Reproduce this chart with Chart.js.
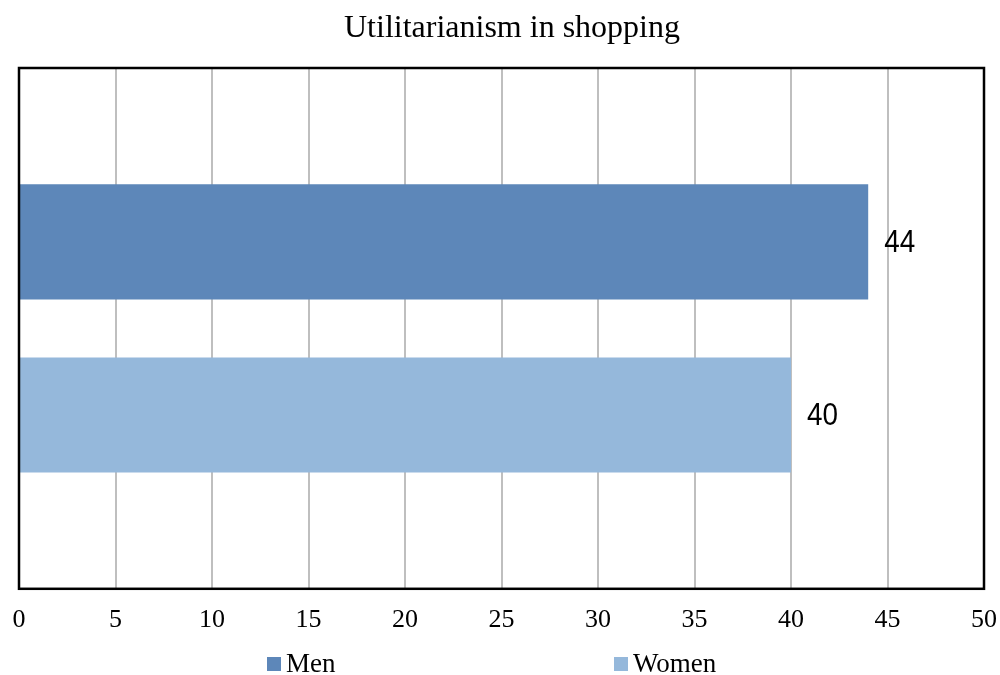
<!DOCTYPE html>
<html>
<head>
<meta charset="utf-8">
<script src="https://cdn.jsdelivr.net/npm/chart.js@4/dist/chart.umd.min.js"></script>
<style>
html,body{margin:0;padding:0;background:#fff;}
#wrap{width:1000px;height:675px;position:relative;}
</style>
</head>
<body>
<div id="wrap"><canvas id="chart"></canvas></div>
<script>
// chart data
const titleText = "Utilitarianism in shopping";
const categories = ["Utilitarianism in shopping"];
const seriesNames = ["Men", "Women"];
const menValues = [44];
const womenValues = [40];
const seriesColors = ["#5D87B9", "#95B8DB"];
const xMin = 0, xMax = 50, xStep = 5;

const serif = "'Liberation Serif', 'Times New Roman', serif";

// title, drawn by hand so it sits a little right of centre like the original
const topTitle = {
  id: "topTitle",
  afterDraw(chart){
    const ctx = chart.ctx;
    ctx.save();
    ctx.font = "32px " + serif;
    ctx.fillStyle = "#000";
    ctx.textAlign = "center";
    ctx.textBaseline = "alphabetic";
    ctx.fillText(titleText, 512, 37);
    ctx.restore();
  }
};

// value labels at the end of each bar (narrow sans look)
const barLabels = {
  id: "barLabels",
  afterDatasetsDraw(chart){
    const ctx = chart.ctx;
    chart.data.datasets.forEach((ds, i) => {
      chart.getDatasetMeta(i).data.forEach((bar, j) => {
        if (ds.data[j] == null) return;
        ctx.save();
        ctx.translate(bar.x + 16, bar.y + 1);
        ctx.scale(0.87, 1);
        ctx.font = "32px 'Liberation Sans', Arial, sans-serif";
        ctx.fillStyle = "#000";
        ctx.textAlign = "left";
        ctx.textBaseline = "middle";
        ctx.fillText(String(ds.data[j]), 0, 0);
        ctx.restore();
      });
    });
  }
};

// black frame round the plot area
const frame = {
  id: "frame",
  afterDatasetsDraw(chart){
    const a = chart.chartArea, ctx = chart.ctx;
    ctx.save();
    ctx.strokeStyle = "#000";
    ctx.lineWidth = 2.5;
    ctx.strokeRect(a.left, a.top, a.right - a.left, a.bottom - a.top);
    ctx.restore();
  }
};

// legend below the axis
const bottomLegend = {
  id: "bottomLegend",
  afterDraw(chart){
    const ctx = chart.ctx;
    const xs = [267, 614];
    const y = 664;
    ctx.save();
    ctx.font = "27px " + serif;
    ctx.textBaseline = "middle";
    ctx.textAlign = "left";
    chart.data.datasets.forEach((ds, i) => {
      ctx.fillStyle = ds.backgroundColor;
      ctx.fillRect(xs[i], y - 7, 14, 14);
      ctx.fillStyle = "#000";
      ctx.fillText(ds.label, xs[i] + 19, y + 1);
    });
    ctx.restore();
  }
};

new Chart(document.getElementById("chart"), {
  type: "bar",
  data: {
    labels: categories,
    datasets: [
      {label: seriesNames[0], data: menValues, backgroundColor: seriesColors[0]},
      {label: seriesNames[1], data: womenValues, backgroundColor: seriesColors[1]}
    ]
  },
  options: {
    indexAxis: "y",
    responsive: true,
    maintainAspectRatio: false,
    animation: false,
    categoryPercentage: 0.665,
    barPercentage: 0.665,
    layout: {padding: {left: 19, right: 16, top: 68, bottom: 23}},
    plugins: {
      legend: {display: false},
      tooltip: {enabled: false},
      title: {display: false}
    },
    scales: {
      x: {
        min: xMin,
        max: xMax,
        afterFit(s){ s.paddingLeft = 0; s.paddingRight = 0; },
        ticks: {
          stepSize: xStep,
          color: "#000",
          padding: 16,
          maxRotation: 0,
          font: {family: serif, size: 26}
        },
        grid: {color: "#BFBFBF", lineWidth: 2, drawTicks: false},
        border: {display: false}
      },
      y: {
        display: false,
        grid: {display: false}
      }
    }
  },
  plugins: [topTitle, barLabels, frame, bottomLegend]
});
</script>
</body>
</html>
